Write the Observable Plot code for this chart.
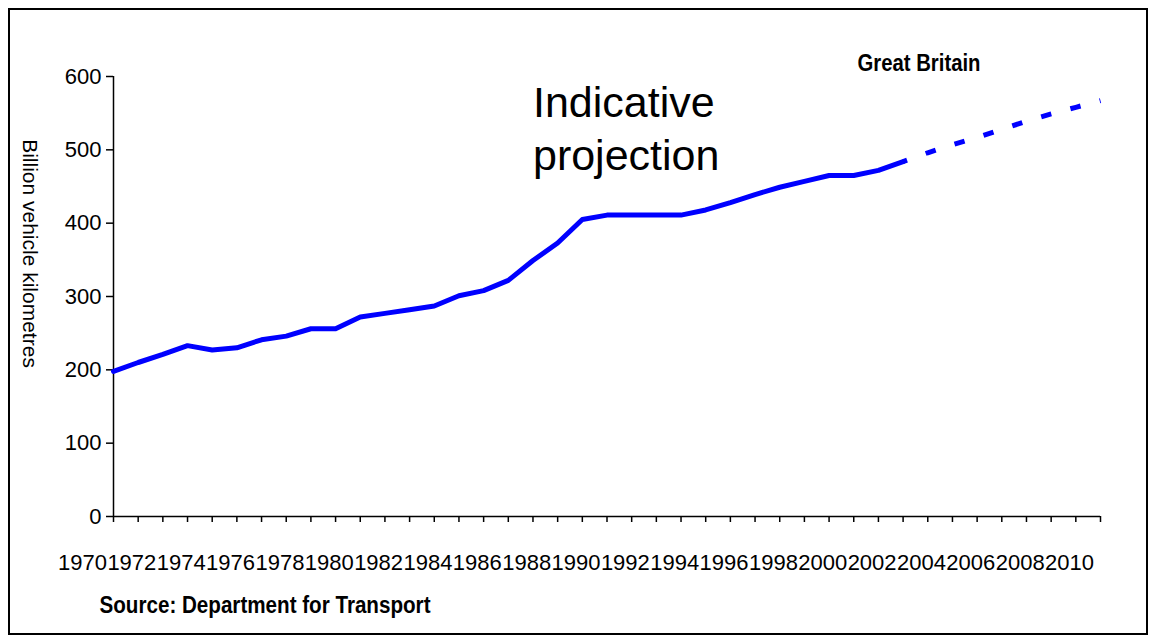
<!DOCTYPE html>
<html>
<head>
<meta charset="utf-8">
<script src="https://cdn.jsdelivr.net/npm/d3@7"></script>
<script src="https://cdn.jsdelivr.net/npm/@observablehq/plot@0.6"></script>
<style>
  html, body { margin: 0; padding: 0; background: #fff; }
  #wrap { position: relative; width: 1155px; height: 643px; overflow: hidden; }
  #wrap svg { position: absolute; left: 0; top: 0; }
  #border { position: absolute; left: 8px; top: 8px; width: 1140px; height: 627px;
            border: 2px solid #000; box-sizing: border-box; pointer-events: none; }
</style>
</head>
<body>
<div id="wrap"><div id="border"></div></div>
<script>
// Observed traffic, Great Britain (billion vehicle kilometres)
const actualYears = [1970,1971,1972,1973,1974,1975,1976,1977,1978,1979,1980,1981,1982,1983,1984,1985,1986,1987,1988,1989,1990,1991,1992,1993,1994,1995,1996,1997,1998,1999,2000,2001,2002];
const actualValues = [198,210,221,233,227,230,241,246,256,256,272,277,282,287,301,308,322,349,373,405,411,411,411,411,418,428,439,449,457,465,465,472,484];

// Indicative projection
const projYears = [2002,2003,2004,2005,2006,2007,2008,2009,2010];
const projValues = [484,496,507,517,528,539,549,558,567];

// Axis ticks and labels
const tickYears = [1970,1971,1972,1973,1974,1975,1976,1977,1978,1979,1980,1981,1982,1983,1984,1985,1986,1987,1988,1989,1990,1991,1992,1993,1994,1995,1996,1997,1998,1999,2000,2001,2002,2003,2004,2005,2006,2007,2008,2009,2010];
const labelYears = [1970,1972,1974,1976,1978,1980,1982,1984,1986,1988,1990,1992,1994,1996,1998,2000,2002,2004,2006,2008,2010];
const tickLabels = ["1970","1972","1974","1976","1978","1980","1982","1984","1986","1988","1990","1992","1994","1996","1998","2000","2002","2004","2006","2008","2010"];
const yTicks = [0,100,200,300,400,500,600];

// Texts
const yLabel = ["Billion vehicle kilometres"];
const regionLabel = ["Great Britain"];
const sourceLabel = ["Source: Department for Transport"];
const noteText = ["Indicative\nprojection"];
const noteYear = [1987];
const noteValue = [472];

const actual = actualYears.map((year, i) => ({year, value: actualValues[i]}));
const proj = projYears.map((year, i) => ({year, value: projValues[i]}));
const notes = noteText.map((text, i) => ({text, year: noteYear[i], value: noteValue[i]}));

const font = "'Liberation Sans', Arial, sans-serif";

const chart = Plot.plot({
  width: 1155,
  height: 643,
  marginLeft: 113,
  marginRight: 55,
  marginTop: 76,
  marginBottom: 127,
  style: {fontFamily: font, fontSize: "22px", color: "#000", background: "transparent"},
  x: {type: "linear", domain: [1970, 2010]},
  y: {domain: [0, 600]},
  marks: [
    Plot.axisY({ticks: yTicks, tickSize: 7, tickPadding: 5, fontSize: 22, label: null, tickFormat: d => String(d), strokeWidth: 1.5}),
    Plot.axisX({ticks: tickYears, tickSize: 6, tickFormat: () => "", label: null, strokeWidth: 1.5}),
    Plot.axisX({ticks: labelYears, tickSize: 0, tickPadding: 38, dx: -31, fontSize: 22, label: null,
                tickFormat: d => tickLabels[labelYears.indexOf(d)]}),
    Plot.ruleY([0], {stroke: "#000", strokeWidth: 1.5}),
    Plot.ruleX([1970], {stroke: "#000", strokeWidth: 1.5}),
    Plot.line(actual, {x: "year", y: "value", stroke: "#0000ff", strokeWidth: 5}),
    Plot.line(proj, {x: "year", y: "value", stroke: "#0000ff", strokeWidth: 5,
                     strokeDasharray: "10.5,19.8", strokeDashoffset: 6.3, strokeLinecap: "butt"}),
    Plot.text(notes, {x: "year", y: "value", text: "text", textAnchor: "start", lineAnchor: "bottom",
                      fontSize: 43, lineHeight: 1.23, fill: "#000"}),
    Plot.text(yLabel, {text: d => d, frameAnchor: "left", textAnchor: "middle", rotate: 90, dx: -84, dy: -43, fontSize: 21, fill: "#000"}),
    Plot.text(regionLabel, {text: d => d, frameAnchor: "top-right", textAnchor: "start", lineAnchor: "bottom",
                            dx: -243, dy: -6, fontSize: 23, fontWeight: "bold", fill: "#000"}),
    Plot.text(sourceLabel, {text: d => d, frameAnchor: "bottom-left", textAnchor: "start", lineAnchor: "bottom",
                            dx: -14, dy: 96, fontSize: 23, fontWeight: "bold", fill: "#000"})
  ]
});

// Narrow bold look of the reference's header and source lines
const condensed = new Map([[regionLabel[0], 123], [sourceLabel[0], 331]]);
chart.querySelectorAll("text").forEach(t => {
  const w = condensed.get(t.textContent);
  if (w) {
    t.setAttribute("textLength", w);
    t.setAttribute("lengthAdjust", "spacingAndGlyphs");
  }
});

document.getElementById("wrap").prepend(chart);
</script>
</body>
</html>
